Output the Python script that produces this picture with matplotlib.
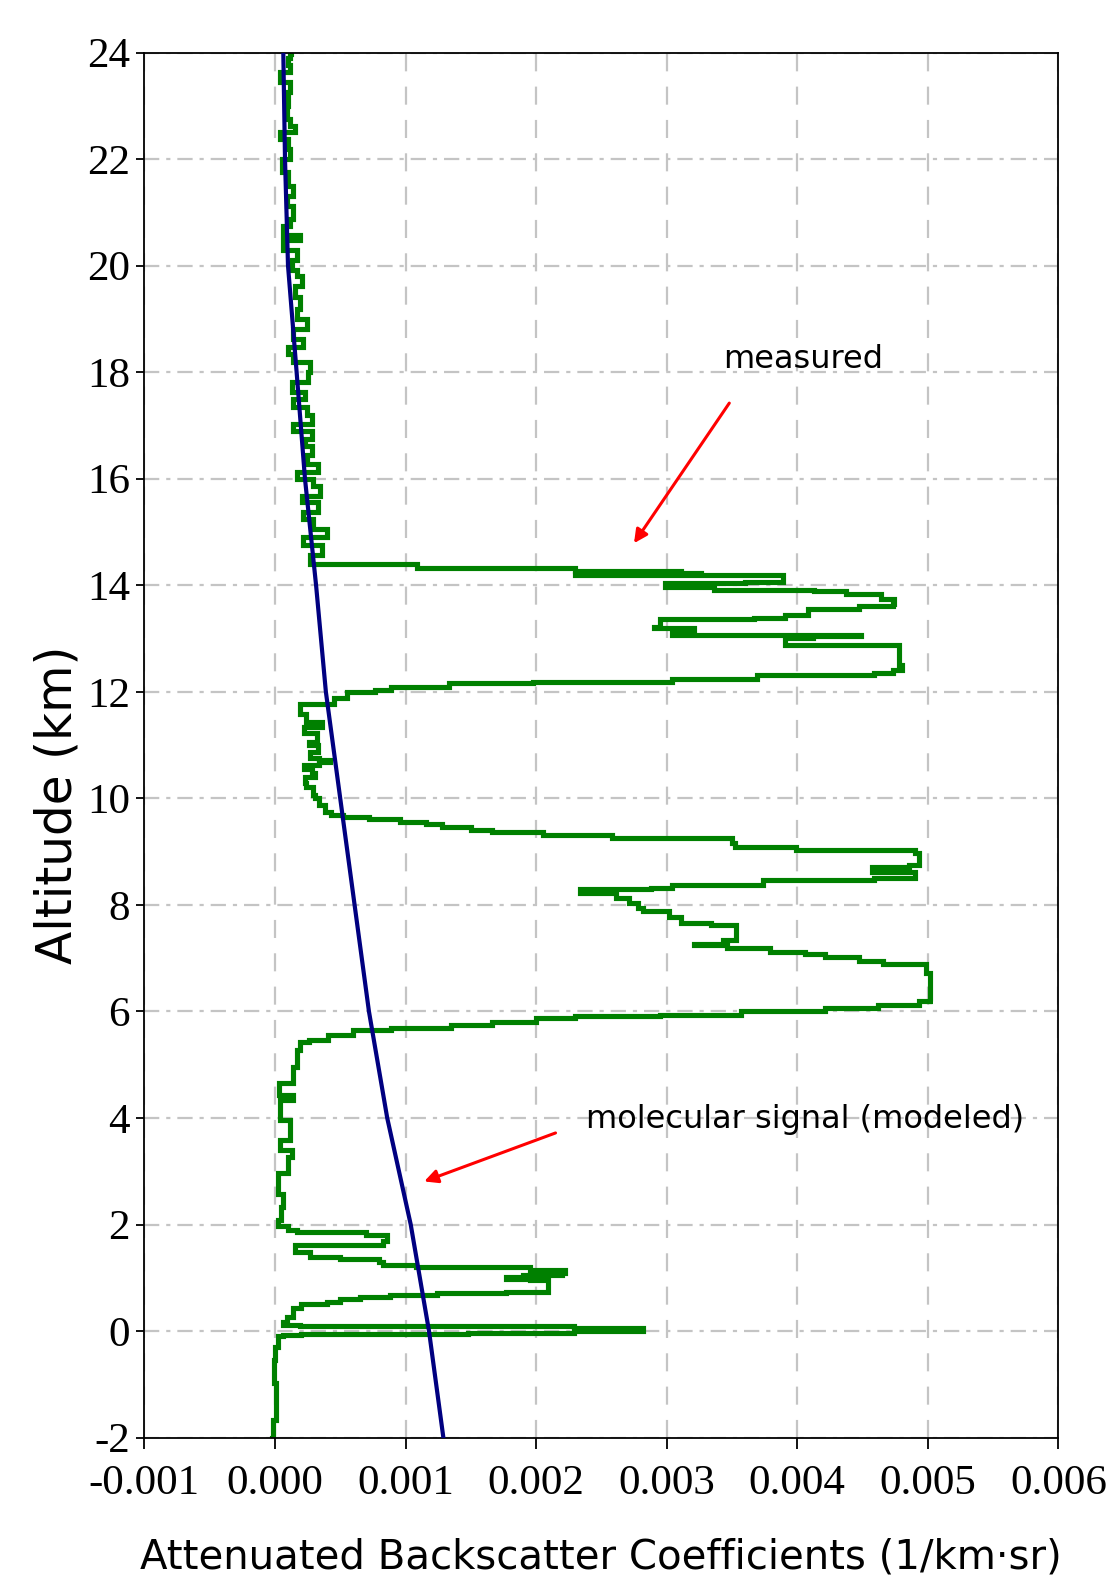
import matplotlib
matplotlib.use("Agg")
import matplotlib.pyplot as plt
import numpy as np

plt.rcParams["lines.scale_dashes"] = False

# x values are in units of 1e-3 (1/km/sr), altitudes in km
x_ticks = [-0.001, 0.000, 0.001, 0.002, 0.003, 0.004, 0.005, 0.006]
x_tick_labels = ["-0.001", "0.000", "0.001", "0.002", "0.003", "0.004", "0.005", "0.006"]
y_ticks = list(range(-2, 25, 2))
y_tick_labels = [str(v) for v in y_ticks]

molecular_alt = [-2, 0, 2, 4, 6, 8, 10, 12, 14, 16, 18, 20, 22, 24]
molecular_val = [1.29, 1.18, 1.04, 0.86, 0.72, 0.61, 0.50, 0.39, 0.315, 0.23,
                 0.166, 0.10, 0.077, 0.064]

measured_alt = [
    -2.00, -1.67, -1.30, -0.98, -0.70, -0.54, -0.29, -0.10, -0.07, -0.05,
    -0.05, -0.03, -0.03, 0.00, 0.02, 0.05, 0.06, 0.09, 0.10, 0.11,
    0.175, 0.27, 0.43, 0.51, 0.55, 0.61, 0.64, 0.68, 0.72, 0.74,
    0.76, 0.96, 0.98, 1.02, 1.05, 1.10, 1.15, 1.20, 1.24, 1.30,
    1.36, 1.40, 1.49, 1.52, 1.61, 1.62, 1.70, 1.80, 1.86, 1.90,
    1.97, 2.08, 2.33, 2.58, 2.96, 3.27, 3.40, 3.59, 3.96, 4.34,
    4.43, 4.65, 4.96, 5.28, 5.43, 5.47, 5.56, 5.66, 5.69, 5.75,
    5.81, 5.87, 5.92, 5.94, 6.00, 6.06, 6.12, 6.19, 6.19, 6.72,
    6.90, 6.94, 7.03, 7.08, 7.12, 7.19, 7.25, 7.27, 7.34, 7.41,
    7.63, 7.66, 7.78, 7.88, 7.94, 8.03, 8.13, 8.22, 8.29, 8.31,
    8.37, 8.46, 8.50, 8.56, 8.62, 8.64, 8.72, 8.75, 8.81, 8.97,
    9.03, 9.03, 9.09, 9.16, 9.25, 9.25, 9.31, 9.37, 9.41, 9.47,
    9.52, 9.56, 9.61, 9.66, 9.69, 9.75, 9.87, 10.00, 10.06, 10.22,
    10.28, 10.41, 10.47, 10.56, 10.62, 10.69, 10.72, 10.75, 10.87, 11.00,
    11.06, 11.22, 11.34, 11.44, 11.59, 11.69, 11.78, 11.78, 11.88, 12.00,
    12.04, 12.09, 12.16, 12.19, 12.25, 12.32, 12.35, 12.41, 12.50, 12.88,
    12.88, 12.98, 13.02, 13.04, 13.07, 13.10, 13.20, 13.22, 13.36, 13.39,
    13.45, 13.55, 13.61, 13.64, 13.75, 13.83, 13.89, 13.92, 13.96, 13.99,
    14.05, 14.06, 14.13, 14.19, 14.20, 14.22, 14.24, 14.27, 14.30, 14.33,
    14.33, 14.40, 14.40, 14.56, 14.75, 14.90, 15.06, 15.25, 15.37, 15.56,
    15.68, 15.87, 16.00, 16.12, 16.28, 16.44, 16.62, 16.75, 16.90, 17.03,
    17.19, 17.34, 17.50, 17.62, 17.81, 18.00, 18.19, 18.34, 18.47, 18.63,
    18.81, 19.00, 19.19, 19.42, 19.61, 19.80, 19.92, 20.10, 20.30, 20.49,
    20.58, 20.74, 20.87, 21.12, 21.30, 21.50, 21.75, 22.00, 22.19, 22.38,
    22.50, 22.63, 22.75, 23.00, 23.26, 23.45, 23.64, 23.76, 23.89, 23.98,
    24.00,
]
measured_val = [
    -0.026, -0.013, 0.005, 0.008, -0.005, -0.008, 0.000, 0.020, 0.060, 0.200,
    1.48, 1.48, 2.29, 2.29, 2.82, 2.82, 2.29, 2.29, 1.50, 0.19,
    0.064, 0.09, 0.14, 0.20, 0.40, 0.50, 0.65, 0.88, 1.24, 1.77,
    2.09, 2.09, 1.95, 1.77, 1.90, 2.20, 2.22, 1.95, 1.08, 0.83,
    0.80, 0.50, 0.27, 0.15, 0.15, 0.57, 0.83, 0.86, 0.70, 0.17,
    0.10, 0.025, 0.05, 0.064, 0.026, 0.10, 0.13, 0.038, 0.115, 0.04,
    0.14, 0.03, 0.14, 0.17, 0.19, 0.26, 0.41, 0.60, 0.89, 1.35,
    1.66, 2.00, 2.30, 2.95, 3.57, 4.21, 4.62, 4.93, 5.03, 5.02,
    4.99, 4.66, 4.47, 4.21, 4.06, 3.79, 3.46, 3.21, 3.43, 3.53,
    3.53, 3.34, 3.11, 3.02, 2.82, 2.78, 2.71, 2.61, 2.34, 2.88,
    3.04, 3.74, 4.59, 4.90, 4.90, 4.57, 4.57, 4.86, 4.93, 4.93,
    4.90, 4.21, 3.99, 3.52, 3.50, 3.09, 2.58, 2.05, 1.66, 1.50,
    1.28, 1.16, 0.96, 0.72, 0.52, 0.43, 0.38, 0.34, 0.31, 0.29,
    0.24, 0.23, 0.31, 0.28, 0.22, 0.34, 0.42, 0.34, 0.27, 0.33,
    0.26, 0.32, 0.22, 0.36, 0.24, 0.19, 0.19, 0.37, 0.45, 0.55,
    0.77, 0.89, 1.33, 1.98, 3.04, 3.69, 4.59, 4.73, 4.80, 4.78,
    4.33, 3.91, 3.91, 4.12, 4.49, 3.04, 3.21, 2.90, 2.95, 3.67,
    3.91, 4.08, 4.47, 4.73, 4.74, 4.64, 4.37, 4.13, 3.36, 2.99,
    2.99, 3.60, 3.89, 3.89, 3.10, 2.30, 3.26, 3.11, 2.30, 2.30,
    1.09, 1.09, 0.32, 0.268, 0.357, 0.217, 0.396, 0.294, 0.217, 0.332,
    0.204, 0.345, 0.294, 0.166, 0.332, 0.243, 0.281, 0.230, 0.281, 0.140,
    0.281, 0.243, 0.140, 0.230, 0.128, 0.255, 0.268, 0.140, 0.102, 0.217,
    0.140, 0.243, 0.166, 0.191, 0.153, 0.204, 0.166, 0.128, 0.166, 0.064,
    0.191, 0.064, 0.115, 0.140, 0.089, 0.140, 0.102, 0.051, 0.115, 0.102,
    0.038, 0.153, 0.115, 0.089, 0.102, 0.115, 0.038, 0.115, 0.102, 0.115,
    0.120,
]

fig = plt.figure(figsize=(11.09, 15.83), dpi=100)
ax = fig.add_axes([0.1302, 0.0918, 0.8241, 0.8750])

ax.plot(np.array(measured_val) * 1e-3, measured_alt, color="#008000",
        linewidth=3.7, drawstyle="steps-post", solid_joinstyle="miter", zorder=2)
ax.plot(np.array(molecular_val) * 1e-3, molecular_alt, color="#000080",
        linewidth=3.0, zorder=3)

ax.set_xlim(-0.001, 0.006)
ax.set_ylim(-2, 24)
ax.set_xticks(x_ticks)
ax.set_xticklabels(x_tick_labels)
ax.set_yticks(y_ticks)
ax.set_yticklabels(y_tick_labels)

ax.set_axisbelow(True)
ax.xaxis.grid(True, color="#c4c4c4", linewidth=1.6, linestyle=(0, (13, 11)))
ax.yaxis.grid(True, color="#c4c4c4", linewidth=1.6, linestyle=(0, (11, 5, 3, 5)))

for spine in ax.spines.values():
    spine.set_linewidth(1.3)
    spine.set_color("black")

ax.tick_params(axis="x", direction="out", length=8, width=1.3, pad=11)
ax.tick_params(axis="y", direction="out", length=5.5, width=1.3, pad=5)
for label in ax.get_xticklabels() + ax.get_yticklabels():
    label.set_fontfamily("Liberation Serif")
    label.set_fontsize(31)

ax.set_xlabel("Attenuated Backscatter Coefficients (1/km\u00b7sr)",
              fontsize=29, family="DejaVu Sans", va="baseline")
ax.xaxis.set_label_coords(0.5, -0.0945)
ax.set_ylabel("Altitude (km)", fontsize=35, family="DejaVu Sans", va="center")
ax.yaxis.set_label_coords(-0.0952, 0.457)

arrow_style = dict(arrowstyle="-|>", color="red", lw=2.2, mutation_scale=20,
                   shrinkA=0, shrinkB=0)
ax.annotate("", xy=(0.00275, 14.79), xytext=(0.00348, 17.42), arrowprops=arrow_style)
ax.annotate("", xy=(0.001143, 2.81), xytext=(0.002149, 3.72), arrowprops=arrow_style)
ax.text(0.004044, 18.08, "measured", fontsize=23, family="DejaVu Sans",
        ha="center", va="baseline")
ax.text(0.004059, 3.81, "molecular signal (modeled)", fontsize=23,
        family="DejaVu Sans", ha="center", va="baseline")

fig.savefig("out.png", dpi=100)
